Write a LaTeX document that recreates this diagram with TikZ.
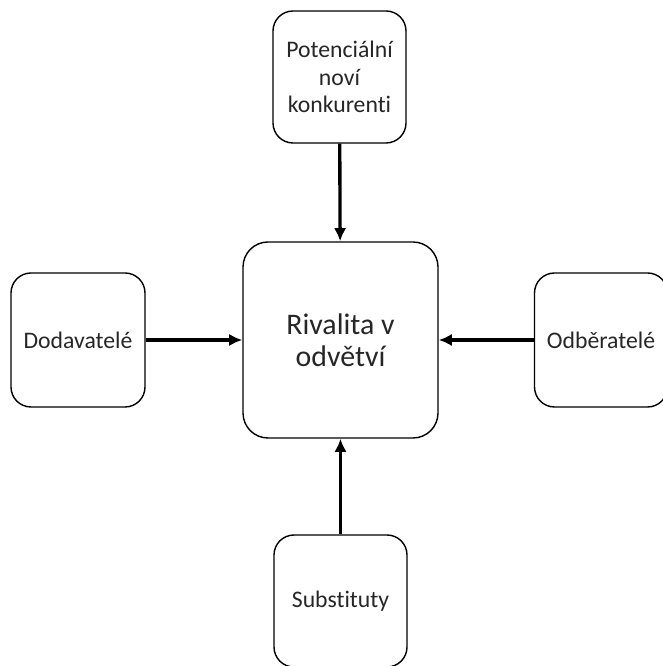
\documentclass[tikz,border=0pt]{standalone}
\usepackage{fontspec}
\setmainfont{Carlito}[Ligatures={NoCommon}, RawFeature={-liga;-clig;-dlig}]
\usetikzlibrary{arrows.meta}
\tikzset{
  force/.style={draw, line width=0.8pt, rounded corners=0.4cm, align=center,
    minimum width=2.66cm, minimum height=2.64cm, inner sep=2pt,
    text=black!85, font=\fontsize{13.5}{15.5}\selectfont},
  rival/.style={draw, line width=0.8pt, rounded corners=0.5cm, align=center,
    minimum width=3.9cm, minimum height=3.92cm,
    text=black!85, font=\fontsize{17}{18}\selectfont},
  push/.style={->, line width=1.9pt}
}
\begin{document}
\begin{tikzpicture}[>={Latex[length=7.5pt,width=7pt]}]
\useasboundingbox (0,0) rectangle (13.24,13.32);

\node[rival] (mid) at (6.81,6.52) {Rivalita v\\odvětví};
\node[force] (new) at (6.79,11.78) {Potenciální\\noví\\konkurenti};
\node[force, minimum width=2.68cm, minimum height=2.68cm] (sup) at (1.56,6.52) {Dodavatelé};
\node[force, minimum height=2.68cm] (buy) at (12.02,6.52) {Odběratelé};
\node[force] (sub) at (6.81,1.30) {Substituty};

\draw[push] (new) -- (mid);
\draw[push] (sup) -- (mid);
\draw[push] (buy) -- (mid);
\draw[push] (sub) -- (mid);
\end{tikzpicture}
\end{document}
